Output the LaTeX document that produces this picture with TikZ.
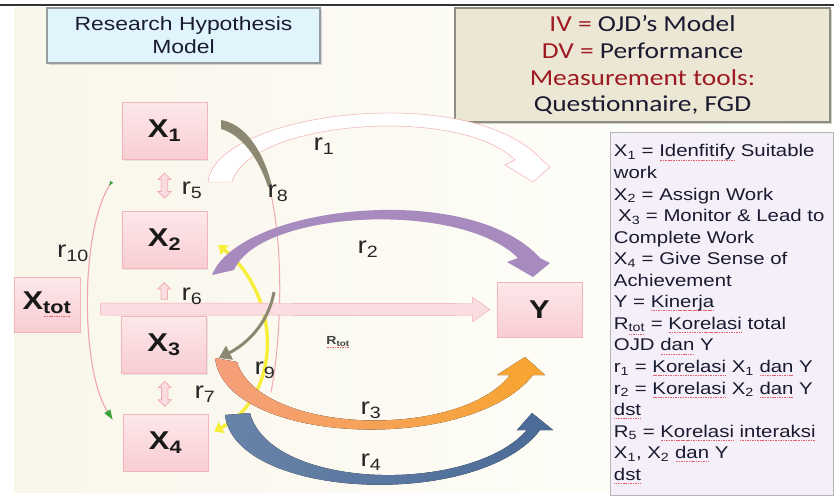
\documentclass[tikz,border=0pt]{standalone}
\usepackage{fontspec}
\setmainfont{Liberation Sans}[FakeStretch=1.2]
\newfontfamily\calibri{Carlito}[FakeStretch=1.2]
\usepackage{tikz}
\usetikzlibrary{arrows.meta, positioning, calc, shadows, shapes.arrows}
\definecolor{bgleft}{HTML}{F9F6EA}
\definecolor{bgright}{HTML}{FFFFFC}
\definecolor{hypfill}{HTML}{DFF5FB}
\definecolor{hypedge}{HTML}{959CA0}
\definecolor{ivfill}{HTML}{ECE7D5}
\definecolor{ivedge}{HTML}{8F8C80}
\definecolor{ivred}{HTML}{9E1A22}
\definecolor{inkdark}{HTML}{1A1A30}
\definecolor{legfill}{HTML}{F4EFF8}
\definecolor{legedge}{HTML}{B5B5B8}
\definecolor{xtop}{HTML}{FDE8EA}
\definecolor{xbot}{HTML}{F8CDD2}
\definecolor{xedge}{HTML}{F2B5BC}
\definecolor{rpink}{HTML}{F0A9B0}
\definecolor{rgreen}{HTML}{3BA33B}
\definecolor{ryellow}{HTML}{F7EE3A}
\definecolor{rbrown}{HTML}{8C8872}
\definecolor{rpurple}{HTML}{A78BBE}
\definecolor{rsalmon}{HTML}{F59F7B}
\definecolor{rorange}{HTML}{F7A52E}
\definecolor{rblueA}{HTML}{6883A8}
\definecolor{rblueB}{HTML}{4A6B97}
\definecolor{bandfill}{HTML}{FADDE0}
\definecolor{spellred}{HTML}{E8606A}
% red spell-check underline
\newsavebox\spellbox
\newcommand\spell[1]{\leavevmode\sbox\spellbox{#1}\rlap{\color{spellred}\raisebox{-0.35ex}{\hbox to \wd\spellbox{\xleaders\hbox to 1.4pt{\hss\rule{0.9pt}{0.45pt}\hss}\hfill}}}\usebox\spellbox}

\begin{document}
\begin{tikzpicture}[x=0.03cm, y=-0.03cm,
  xbox/.style={draw=xedge, line width=0.5pt, top color=xtop, bottom color=xbot,
    minimum width=2.55cm, minimum height=1.71cm, inner sep=0pt,
    font=\bfseries\fontsize{22}{24}\selectfont, text=black!90,
    drop shadow={shadow xshift=1pt, shadow yshift=-1pt, opacity=0.15}},
  rlab/.style={inner sep=0pt, font=\fontsize{20}{22}\selectfont, text=black!85},
  smallarrow/.style={draw=rpink, fill=bandfill, line width=0.6pt, inner sep=0.085cm,
    minimum height=0.75cm, rotate=90},
  blockarrow/.style={line width=0.4pt}]
  \useasboundingbox (0,0) rectangle (834,496);
  % background and top rule
  \fill[left color=bgleft, right color=bgright] (14,7) rectangle (834,492);
  \draw[black!80, line width=0.06cm] (0,4.5) -- (834,4.5);

  % title and info boxes
  \node[draw=hypedge, line width=1.3pt, fill=hypfill, minimum width=8.19cm,
    minimum height=1.65cm, align=center, text=inkdark,
    font=\fontsize{16.3}{19.5}\selectfont,
    drop shadow={shadow xshift=1.5pt, shadow yshift=-1.5pt, opacity=0.3}]
    (hyp) at (183.5,35.5) {Research Hypothesis\\Model};
  \node[draw=ivedge, line width=1.3pt, fill=ivfill, minimum width=11.25cm,
    minimum height=3.42cm, align=center, text=inkdark,
    font=\calibri\fontsize{19.5}{23}\selectfont,
    drop shadow={shadow xshift=1.5pt, shadow yshift=-1.5pt, opacity=0.35}]
    (iv) at (642.5,65) {{\color{ivred}IV =} OJD’s Model\\
      {\color{ivred}DV =} Performance\\
      {\color{ivred}Measurement tools:}\\
      Questionnaire, FGD};
  \node[draw=legedge, line width=1pt, fill=legfill, anchor=north west,
    text width=6.5cm, inner xsep=0.1cm, inner ysep=0.36cm, align=left,
    text=inkdark, font=\fontsize{14.5}{18.4}\selectfont]
    (legend) at (610,132) {X\textsubscript{1} = \spell{Idenfitify} Suitable\\
      work\\
      X\textsubscript{2} = Assign Work\\
      \hspace*{0.25em}X\textsubscript{3} = Monitor \& Lead to\\
      Complete Work\\
      X\textsubscript{4} = Give Sense of\\
      Achievement\\
      Y = \spell{Kinerja}\\
      R\textsubscript{\spell{tot}} = \spell{Korelasi} total\\
      OJD \spell{dan} Y\\
      r\textsubscript{1} = \spell{Korelasi} X\textsubscript{1} \spell{dan} Y\\
      r\textsubscript{2} = \spell{Korelasi} X\textsubscript{2} \spell{dan} Y\\
      \spell{dst}\\
      R\textsubscript{5} = \spell{Korelasi} \spell{interaksi}\\
      X\textsubscript{1}, X\textsubscript{2} \spell{dan} Y\\
      \spell{dst}};

  % variable boxes
  \node[xbox] (x1) at (164.5,131) {X\textsubscript{1}};
  \node[xbox] (x2) at (164.5,240) {X\textsubscript{2}};
  \node[xbox] (x3) at (164,345) {X\textsubscript{3}};
  \node[xbox] (x4) at (165.5,442.5) {X\textsubscript{4}};
  \node[xbox, minimum width=1.98cm, minimum height=1.65cm] (xtot) at (47,304.5) {X\textsubscript{\spell{tot}}};
  \node[xbox, minimum height=1.65cm] (yy) at (539.5,309.5) {Y};

  % r10, thin r8 line, r9
  \draw[rpink, line width=0.035cm,
    {Triangle[reversed, color=rgreen, length=0.15cm, width=0.1cm]}-{Triangle[color=rgreen, length=0.3cm, width=0.2cm]}]
    ($(x1.south west)+(-10,22)$) .. controls +(-32,50) and +(-32,-50) .. ($(x4.north west)+(-10,6)$);
  \draw[rpink, line width=0.03cm] (262,165) .. controls (285,220) and (283,330) .. (271,392);
  \draw[ryellow, line width=0.1cm, {Triangle[length=0.25cm, width=0.36cm]}-{Triangle[length=0.25cm, width=0.36cm]}]
    ($(x2.east)+(11,5)$) .. controls +(62,50) and +(70,-38) .. ($(x4.east)+(6,-11)$);

  % r1
  \filldraw[blockarrow, draw=rpink, fill=white]
    (208,182) .. controls (215,112) and (470,80) .. (542,160) -- (550,167) -- (533,182)
    -- (505,165) -- (515,160) .. controls (460,105) and (250,120) .. (232,182) -- cycle;
  % r8 start
  \fill[rbrown] (221,120) .. controls (245,124) and (263,150) .. (272,186)
    -- (268,187) .. controls (258,156) and (240,134) .. (221,129) -- cycle;
  % r2
  \fill[rpurple] (212,275) .. controls (240,205) and (470,180) .. (540,258) -- (550,263)
    -- (533,277) -- (507,262) -- (518,258) .. controls (460,200) and (260,210) .. (234,270) -- cycle;
  % Rtot band
  \coordinate (ts) at ($(xtot.east)+(20,4.5)$);
  \coordinate (te) at ($(yy.west)+(-7,0)$);
  \filldraw[blockarrow, draw=rpink, fill=bandfill]
    ($(ts)+(0,-6)$) -- ($(te)+(-17,-6)$) -- ($(te)+(-17,-12)$) -- (te)
    -- ($(te)+(-17,12)$) -- ($(te)+(-17,6)$) -- ($(ts)+(0,6)$) -- cycle;
  % r8 end
  \draw[rbrown, line width=0.09cm, -{Triangle[length=0.36cm, width=0.45cm]}]
    (274,292) .. controls (268,325) and (245,345) .. ($(x3.east)+(12,13)$);
  % r3
  \fill[left color=rsalmon, right color=rorange]
    (215,358) .. controls (225,445) and (470,455) .. (533,375) -- (545,375) -- (525,357)
    -- (497,375) -- (510,375) .. controls (460,440) and (260,435) .. (237,362) -- cycle;
  % r4
  \fill[left color=rblueA, right color=rblueB]
    (225,415) .. controls (235,500) and (480,510) .. (540,430) -- (553,430) -- (532,413)
    -- (517,430) -- (527,430) .. controls (470,495) and (270,490) .. (250,413) -- cycle;

  % short links between boxes
  \node[smallarrow, double arrow, double arrow head extend=0.1cm] (a5) at ($(x1.south)!0.5!(x2.north)$) {};
  \node[smallarrow, single arrow, single arrow head extend=0.1cm, minimum height=0.5cm] (a6) at ($(x2.south)!0.5!(x3.north)$) {};
  \node[smallarrow, double arrow, double arrow head extend=0.1cm] (a7) at ($(x3.south)!0.5!(x4.north)$) {};

  % labels
  \node[rlab] (l1) at (324,146) {r\textsubscript{1}};
  \node[rlab] (l2) at (368,249) {r\textsubscript{2}};
  \node[rlab] (l3) at (371,410) {r\textsubscript{3}};
  \node[rlab] (l4) at (371,462) {r\textsubscript{4}};
  \node[rlab] (l5) at (192,190) {r\textsubscript{5}};
  \node[rlab] (l6) at (192,296) {r\textsubscript{6}};
  \node[rlab] (l7) at (205,394) {r\textsubscript{7}};
  \node[rlab] (l8) at (278,193) {r\textsubscript{8}};
  \node[rlab] (l9) at (265,370) {r\textsubscript{9}};
  \node[rlab] (l10) at (73,253) {r\textsubscript{10}};
  \node[inner sep=0pt, font=\bfseries\fontsize{10}{12}\selectfont, text=black!75] (ltot) at (338,342) {\spell{R\textsubscript{tot}}};
\end{tikzpicture}
\end{document}
